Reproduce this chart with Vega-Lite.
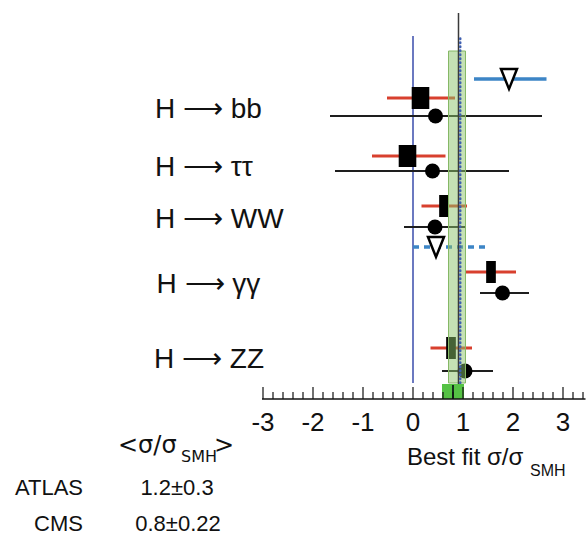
{
  "$schema": "https://vega.github.io/schema/vega-lite/v6.json",
  "width": 588,
  "height": 541,
  "autosize": "none",
  "padding": 0,
  "background": "white",
  "config": {"view": {"stroke": null}, "text": {"font": "Liberation Sans", "color": "#111111"}},
  "datasets": {
    "fits": [
      {"decay": "bb", "expt": "ATLAS", "lo": -0.52, "c": 0.15, "hi": 0.84, "y": 3.01, "box": "wide"},
      {"decay": "ττ", "expt": "ATLAS", "lo": -0.82, "c": -0.11, "hi": 0.65, "y": 2.43, "box": "wide"},
      {"decay": "WW", "expt": "ATLAS", "lo": 0.17, "c": 0.62, "hi": 1.08, "y": 1.93, "box": "narrow"},
      {"decay": "γγ", "expt": "ATLAS", "lo": 1.06, "c": 1.56, "hi": 2.06, "y": 1.27, "box": "narrow"},
      {"decay": "ZZ", "expt": "ATLAS", "lo": 0.35, "c": 0.76, "hi": 1.18, "y": 0.51, "box": "narrow"},
      {"decay": "bb", "expt": "CMS", "lo": -1.66, "c": 0.45, "hi": 2.58, "y": 2.83},
      {"decay": "ττ", "expt": "CMS", "lo": -1.56, "c": 0.39, "hi": 1.92, "y": 2.28},
      {"decay": "WW", "expt": "CMS", "lo": -0.18, "c": 0.44, "hi": 1.04, "y": 1.72},
      {"decay": "γγ", "expt": "CMS", "lo": 1.34, "c": 1.79, "hi": 2.32, "y": 1.06},
      {"decay": "ZZ", "expt": "CMS", "lo": 0.58, "c": 1.04, "hi": 1.6, "y": 0.28}
    ],
    "limits": [
      {"kind": "solid", "lo": 1.22, "c": 1.92, "hi": 2.67, "y": 3.2},
      {"kind": "dashed", "lo": 0.0, "c": 0.46, "hi": 1.46, "y": 1.52}
    ],
    "ticks": [
      {"v": -3, "major": true, "label": "-3"}, {"v": -2.8}, {"v": -2.6}, {"v": -2.4}, {"v": -2.2},
      {"v": -2, "major": true, "label": "-2"}, {"v": -1.8}, {"v": -1.6}, {"v": -1.4}, {"v": -1.2},
      {"v": -1, "major": true, "label": "-1"}, {"v": -0.8}, {"v": -0.6}, {"v": -0.4}, {"v": -0.2},
      {"v": 0, "major": true, "label": "0"}, {"v": 0.2}, {"v": 0.4}, {"v": 0.6}, {"v": 0.8},
      {"v": 1, "major": true, "label": "1"}, {"v": 1.2}, {"v": 1.4}, {"v": 1.6}, {"v": 1.8},
      {"v": 2, "major": true, "label": "2"}, {"v": 2.2}, {"v": 2.4}, {"v": 2.6}, {"v": 2.8},
      {"v": 3, "major": true, "label": "3"}, {"v": 3.2}, {"v": 3.4}
    ]
  },
  "layer": [
    {
      "data": {"values": [{"x": 0, "y": 0.16, "y2": 3.63}]},
      "mark": {"type": "rule", "color": "#3a4cab", "strokeWidth": 1.5},
      "encoding": {
        "x": {"field": "x", "type": "quantitative", "scale": {"domain": [-8.26, 3.5], "nice": false, "zero": false}, "axis": null},
        "y": {"field": "y", "type": "quantitative", "scale": {"domain": [-1.42, 3.99], "nice": false, "zero": false}, "axis": null},
        "y2": {"field": "y2"}
      }
    },
    {
      "data": {"name": "fits"},
      "transform": [{"filter": "datum.expt === 'CMS'"}],
      "mark": {"type": "rule", "color": "#1e1e1e", "strokeWidth": 2},
      "encoding": {
        "x": {"field": "lo", "type": "quantitative", "scale": {"domain": [-8.26, 3.5], "nice": false, "zero": false}, "axis": null},
        "x2": {"field": "hi"},
        "y": {"field": "y", "type": "quantitative", "scale": {"domain": [-1.42, 3.99], "nice": false, "zero": false}, "axis": null}
      }
    },
    {
      "data": {"name": "fits"},
      "transform": [{"filter": "datum.expt === 'ATLAS'"}],
      "mark": {"type": "rule", "color": "#d8402e", "strokeWidth": 3},
      "encoding": {
        "x": {"field": "lo", "type": "quantitative", "scale": {"domain": [-8.26, 3.5], "nice": false, "zero": false}, "axis": null},
        "x2": {"field": "hi"},
        "y": {"field": "y", "type": "quantitative", "scale": {"domain": [-1.42, 3.99], "nice": false, "zero": false}, "axis": null}
      }
    },
    {
      "data": {"name": "limits"},
      "mark": {"type": "rule", "color": "#3d85c6", "strokeWidth": 3.5},
      "encoding": {
        "x": {"field": "lo", "type": "quantitative", "scale": {"domain": [-8.26, 3.5], "nice": false, "zero": false}, "axis": null},
        "x2": {"field": "hi"},
        "y": {"field": "y", "type": "quantitative", "scale": {"domain": [-1.42, 3.99], "nice": false, "zero": false}, "axis": null},
        "strokeDash": {"field": "kind", "type": "nominal", "scale": {"domain": ["solid", "dashed"], "range": [[1, 0], [6, 5]]}, "legend": null}
      }
    },
    {
      "data": {"name": "fits"},
      "transform": [{"filter": "datum.expt === 'ATLAS'"}],
      "mark": {"type": "point", "filled": true, "color": "#000000", "opacity": 1, "size": 484},
      "encoding": {
        "x": {"field": "c", "type": "quantitative", "scale": {"domain": [-8.26, 3.5], "nice": false, "zero": false}, "axis": null},
        "y": {"field": "y", "type": "quantitative", "scale": {"domain": [-1.42, 3.99], "nice": false, "zero": false}, "axis": null},
        "shape": {"field": "box", "type": "nominal", "scale": {"domain": ["wide", "narrow"], "range": ["M-0.8,-1H0.8V1H-0.8Z", "M-0.44,-1H0.44V1H-0.44Z"]}, "legend": null}
      }
    },
    {
      "data": {"name": "fits"},
      "transform": [{"filter": "datum.expt === 'CMS'"}],
      "mark": {"type": "point", "shape": "circle", "filled": true, "color": "#000000", "opacity": 1, "size": 225},
      "encoding": {
        "x": {"field": "c", "type": "quantitative", "scale": {"domain": [-8.26, 3.5], "nice": false, "zero": false}, "axis": null},
        "y": {"field": "y", "type": "quantitative", "scale": {"domain": [-1.42, 3.99], "nice": false, "zero": false}, "axis": null}
      }
    },
    {
      "data": {"name": "limits"},
      "mark": {"type": "point", "shape": "M-0.8,-1L0.8,-1L0,1Z", "filled": false, "fill": "white", "fillOpacity": 1, "stroke": "#000000", "strokeWidth": 2.5, "opacity": 1, "size": 400},
      "encoding": {
        "x": {"field": "c", "type": "quantitative", "scale": {"domain": [-8.26, 3.5], "nice": false, "zero": false}, "axis": null},
        "y": {"field": "y", "type": "quantitative", "scale": {"domain": [-1.42, 3.99], "nice": false, "zero": false}, "axis": null}
      }
    },
    {
      "data": {"values": [{"lo": 0.71, "hi": 1.05, "y": 0.16, "y2": 3.48}]},
      "mark": {"type": "rect", "fill": "#8cc46a", "fillOpacity": 0.5, "stroke": "#86b866", "strokeWidth": 1},
      "encoding": {
        "x": {"field": "lo", "type": "quantitative", "scale": {"domain": [-8.26, 3.5], "nice": false, "zero": false}, "axis": null},
        "x2": {"field": "hi"},
        "y": {"field": "y", "type": "quantitative", "scale": {"domain": [-1.42, 3.99], "nice": false, "zero": false}, "axis": null},
        "y2": {"field": "y2"}
      }
    },
    {
      "data": {"values": [{"x": 0.91, "y": 0, "y2": 3.86}]},
      "mark": {"type": "rule", "color": "#3a3a3a", "strokeWidth": 1.5},
      "encoding": {
        "x": {"field": "x", "type": "quantitative", "scale": {"domain": [-8.26, 3.5], "nice": false, "zero": false}, "axis": null},
        "y": {"field": "y", "type": "quantitative", "scale": {"domain": [-1.42, 3.99], "nice": false, "zero": false}, "axis": null},
        "y2": {"field": "y2"}
      }
    },
    {
      "data": {"values": [{"x": 0.945, "y": 0.16, "y2": 3.63}]},
      "mark": {"type": "rule", "color": "#3f5fb0", "strokeWidth": 2.5, "strokeDash": [0.5, 3.5], "strokeCap": "round"},
      "encoding": {
        "x": {"field": "x", "type": "quantitative", "scale": {"domain": [-8.26, 3.5], "nice": false, "zero": false}, "axis": null},
        "y": {"field": "y", "type": "quantitative", "scale": {"domain": [-1.42, 3.99], "nice": false, "zero": false}, "axis": null},
        "y2": {"field": "y2"}
      }
    },
    {
      "data": {"values": [{"lo": 0.58, "hi": 1.02, "y": 0, "y2": 0.15}]},
      "mark": {"type": "rect", "fill": "#55c244"},
      "encoding": {
        "x": {"field": "lo", "type": "quantitative", "scale": {"domain": [-8.26, 3.5], "nice": false, "zero": false}, "axis": null},
        "x2": {"field": "hi"},
        "y": {"field": "y", "type": "quantitative", "scale": {"domain": [-1.42, 3.99], "nice": false, "zero": false}, "axis": null},
        "y2": {"field": "y2"}
      }
    },
    {
      "data": {"values": [{"x": 0.8, "y": 0, "y2": 0.14}]},
      "mark": {"type": "rule", "color": "#13301a", "strokeWidth": 2},
      "encoding": {
        "x": {"field": "x", "type": "quantitative", "scale": {"domain": [-8.26, 3.5], "nice": false, "zero": false}, "axis": null},
        "y": {"field": "y", "type": "quantitative", "scale": {"domain": [-1.42, 3.99], "nice": false, "zero": false}, "axis": null},
        "y2": {"field": "y2"}
      }
    },
    {
      "data": {"values": [{"lo": -3.02, "hi": 3.45, "y": 0}]},
      "mark": {"type": "rule", "color": "#111111", "strokeWidth": 1.5},
      "encoding": {
        "x": {"field": "lo", "type": "quantitative", "scale": {"domain": [-8.26, 3.5], "nice": false, "zero": false}, "axis": null},
        "x2": {"field": "hi"},
        "y": {"field": "y", "type": "quantitative", "scale": {"domain": [-1.42, 3.99], "nice": false, "zero": false}, "axis": null}
      }
    },
    {
      "data": {"name": "ticks"},
      "transform": [{"filter": "datum.major === true"}],
      "mark": {"type": "rule", "color": "#111111", "strokeWidth": 1.2},
      "encoding": {
        "x": {"field": "v", "type": "quantitative", "scale": {"domain": [-8.26, 3.5], "nice": false, "zero": false}, "axis": null},
        "y": {"datum": 0, "type": "quantitative", "scale": {"domain": [-1.42, 3.99], "nice": false, "zero": false}, "axis": null},
        "y2": {"datum": 0.12}
      }
    },
    {
      "data": {"name": "ticks"},
      "transform": [{"filter": "datum.major !== true"}],
      "mark": {"type": "rule", "color": "#111111", "strokeWidth": 1.2},
      "encoding": {
        "x": {"field": "v", "type": "quantitative", "scale": {"domain": [-8.26, 3.5], "nice": false, "zero": false}, "axis": null},
        "y": {"datum": 0, "type": "quantitative", "scale": {"domain": [-1.42, 3.99], "nice": false, "zero": false}, "axis": null},
        "y2": {"datum": 0.07}
      }
    },
    {
      "data": {"name": "ticks"},
      "transform": [{"filter": "datum.major === true"}],
      "mark": {"type": "text", "fontSize": 26, "align": "center", "baseline": "alphabetic"},
      "encoding": {
        "x": {"field": "v", "type": "quantitative", "scale": {"domain": [-8.26, 3.5], "nice": false, "zero": false}, "axis": null},
        "y": {"datum": -0.32, "type": "quantitative", "scale": {"domain": [-1.42, 3.99], "nice": false, "zero": false}, "axis": null},
        "text": {"field": "label"}
      }
    },
    {
      "data": {"values": [
        {"t": "H ⟶ bb", "x": -5.16, "y": 2.81},
        {"t": "H ⟶ ττ", "x": -5.16, "y": 2.23},
        {"t": "H ⟶ WW", "x": -5.16, "y": 1.71},
        {"t": "H ⟶ γγ", "x": -5.13, "y": 1.06},
        {"t": "H ⟶ ZZ", "x": -5.18, "y": 0.31}
      ]},
      "mark": {"type": "text", "fontSize": 28, "align": "left", "baseline": "alphabetic"},
      "encoding": {
        "x": {"field": "x", "type": "quantitative", "scale": {"domain": [-8.26, 3.5], "nice": false, "zero": false}, "axis": null},
        "y": {"field": "y", "type": "quantitative", "scale": {"domain": [-1.42, 3.99], "nice": false, "zero": false}, "axis": null},
        "text": {"field": "t"}
      }
    },
    {
      "data": {"values": [
        {"t": "Best fit σ/σ", "x": -0.12, "y": -0.66, "s": "big"},
        {"t": "SMH", "x": 2.34, "y": -0.77, "s": "sub"}
      ]},
      "mark": {"type": "text", "align": "left", "baseline": "alphabetic"},
      "encoding": {
        "x": {"field": "x", "type": "quantitative", "scale": {"domain": [-8.26, 3.5], "nice": false, "zero": false}, "axis": null},
        "y": {"field": "y", "type": "quantitative", "scale": {"domain": [-1.42, 3.99], "nice": false, "zero": false}, "axis": null},
        "text": {"field": "t"},
        "size": {"field": "s", "type": "nominal", "scale": {"domain": ["big", "sub"], "range": [24, 16]}, "legend": null}
      }
    },
    {
      "data": {"values": [
        {"t": "<σ/σ", "x": -5.9, "y": -0.54, "s": "big"},
        {"t": "SMH", "x": -4.64, "y": -0.63, "s": "sub"},
        {"t": ">", "x": -3.98, "y": -0.54, "s": "big"}
      ]},
      "mark": {"type": "text", "align": "left", "baseline": "alphabetic", "font": "DejaVu Sans"},
      "encoding": {
        "x": {"field": "x", "type": "quantitative", "scale": {"domain": [-8.26, 3.5], "nice": false, "zero": false}, "axis": null},
        "y": {"field": "y", "type": "quantitative", "scale": {"domain": [-1.42, 3.99], "nice": false, "zero": false}, "axis": null},
        "text": {"field": "t"},
        "size": {"field": "s", "type": "nominal", "scale": {"domain": ["big", "sub"], "range": [25, 14]}, "legend": null}
      }
    },
    {
      "data": {"values": [
        {"t": "ATLAS", "x": -6.6, "y": -0.96},
        {"t": "CMS", "x": -6.6, "y": -1.32}
      ]},
      "mark": {"type": "text", "fontSize": 22, "align": "right", "baseline": "alphabetic"},
      "encoding": {
        "x": {"field": "x", "type": "quantitative", "scale": {"domain": [-8.26, 3.5], "nice": false, "zero": false}, "axis": null},
        "y": {"field": "y", "type": "quantitative", "scale": {"domain": [-1.42, 3.99], "nice": false, "zero": false}, "axis": null},
        "text": {"field": "t"}
      }
    },
    {
      "data": {"values": [
        {"t": "1.2±0.3", "x": -4.72, "y": -0.96},
        {"t": "0.8±0.22", "x": -4.7, "y": -1.32}
      ]},
      "mark": {"type": "text", "fontSize": 22, "align": "center", "baseline": "alphabetic"},
      "encoding": {
        "x": {"field": "x", "type": "quantitative", "scale": {"domain": [-8.26, 3.5], "nice": false, "zero": false}, "axis": null},
        "y": {"field": "y", "type": "quantitative", "scale": {"domain": [-1.42, 3.99], "nice": false, "zero": false}, "axis": null},
        "text": {"field": "t"}
      }
    }
  ]
}
